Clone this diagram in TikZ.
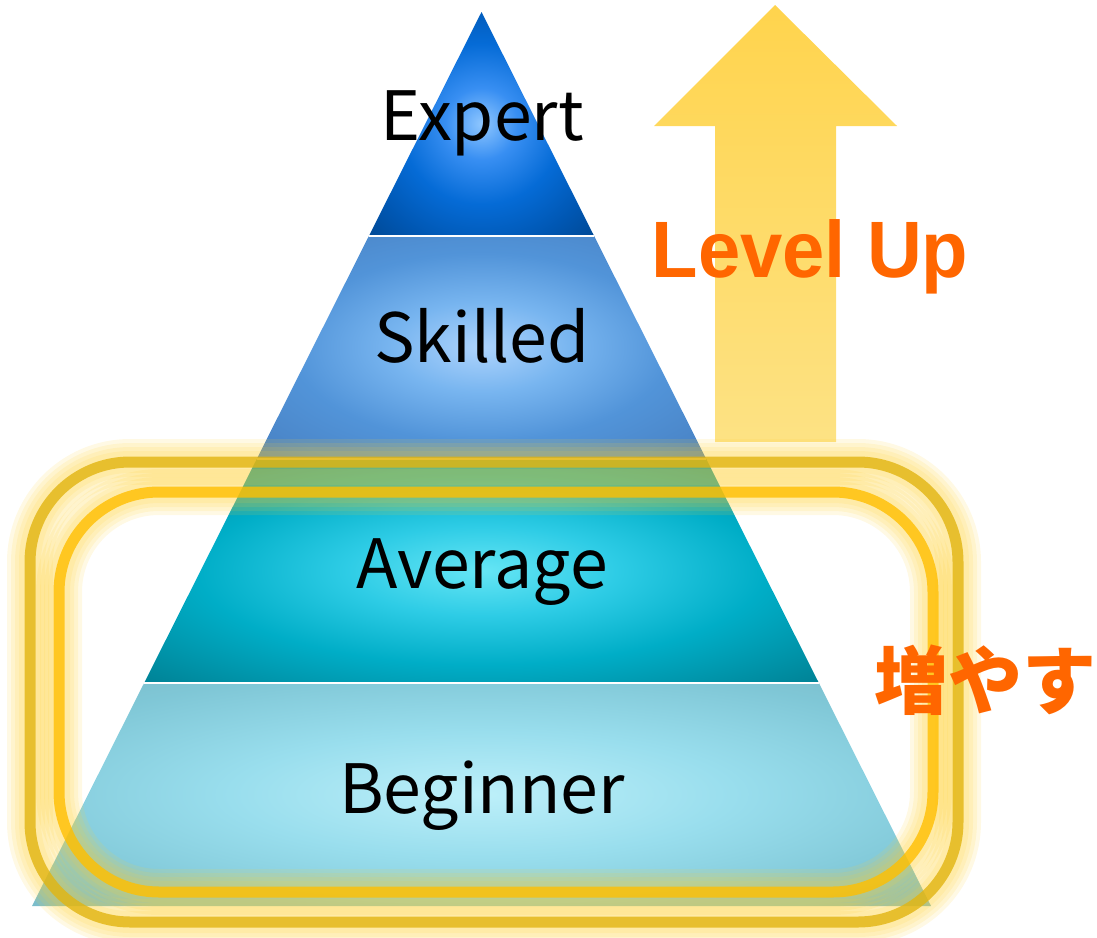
\documentclass[tikz,border=0pt]{standalone}
\usepackage{fontspec}
\usepackage{tikz}
\usetikzlibrary{calc}
\newfontfamily\tierfont{Noto Sans CJK JP}
\newfontfamily\levelfont{Liberation Sans}[FakeStretch=0.95]
\newfontfamily\cjkfont{Noto Sans CJK JP}
\definecolor{lvlorange}{RGB}{255,102,0}
\definecolor{arrowtop}{RGB}{255,212,77}
\definecolor{arrowbot}{RGB}{253,226,132}
\definecolor{glowyellow}{RGB}{255,208,50}
\definecolor{outerring}{RGB}{226,181,16}
\definecolor{innerring}{RGB}{255,191,0}
\pgfdeclareradialshading{expertshade}{\pgfpoint{0bp}{0bp}}{rgb(0bp)=(0.56,0.78,1);rgb(8bp)=(0.22,0.56,0.95);rgb(18bp)=(0.02,0.42,0.84);rgb(28bp)=(0,0.34,0.7);rgb(38bp)=(0,0.27,0.55);rgb(50bp)=(0,0.23,0.46)}
\pgfdeclareradialshading{skilledshade}{\pgfpoint{0bp}{0bp}}{rgb(0bp)=(0.68,0.83,0.99);rgb(10bp)=(0.47,0.71,0.94);rgb(21bp)=(0.32,0.58,0.85);rgb(32bp)=(0.29,0.52,0.78);rgb(42bp)=(0.28,0.45,0.65);rgb(50bp)=(0.27,0.42,0.6)}
\pgfdeclareradialshading{averageshade}{\pgfpoint{0bp}{0bp}}{rgb(0bp)=(0.4,0.9,0.96);rgb(10bp)=(0.18,0.8,0.9);rgb(21bp)=(0,0.68,0.78);rgb(32bp)=(0,0.55,0.63);rgb(42bp)=(0,0.43,0.5);rgb(50bp)=(0,0.38,0.45)}
\pgfdeclareradialshading{beginnershade}{\pgfpoint{0bp}{0bp}}{rgb(0bp)=(0.74,0.94,0.98);rgb(14bp)=(0.6,0.87,0.93);rgb(28bp)=(0.5,0.78,0.84);rgb(39bp)=(0.47,0.72,0.77);rgb(50bp)=(0.45,0.68,0.74)}
\tikzset{
  tier/.style={anchor=base, inner sep=0pt, font=\tierfont\fontsize{68}{68}\selectfont},
  glowline/.style={draw=glowyellow, line width=#1, opacity=0.13, rounded corners=100pt},
  ringline/.style={draw=#1, line width=11pt, opacity=0.8, rounded corners=100pt}
}

\begin{document}
\begin{tikzpicture}[x=1pt,y=-1pt]
\useasboundingbox (0,0) rectangle (1097,937);
\coordinate (apex) at (481.5,12);
\coordinate (bl) at (32,906);
\coordinate (br) at (931,906);
\foreach \ta/\tb/\sh in {0/0.25/expertshade, 0.25/0.5/skilledshade, 0.5/0.75/averageshade, 0.75/1/beginnershade}
  \shade[shading=\sh] ($(apex)!\ta!(bl)$) -- ($(apex)!\tb!(bl)$) -- ($(apex)!\tb!(br)$) -- ($(apex)!\ta!(br)$) -- cycle;
\foreach \t in {0.25,0.5,0.75}
  \draw[white, line width=2pt] ($(apex)!\t!(bl)$) -- ($(apex)!\t!(br)$);
\shade[top color=arrowtop, bottom color=arrowbot] (775,5) -- (897,126) -- (836,126) -- (836,442) -- (715,442) -- (715,126) -- (654,126) -- cycle;
\foreach \w in {46,38,30,22}
  \draw[glowline=\w pt] (30,462) rectangle (958,922);
\foreach \w in {46,38,30,22}
  \draw[glowline=\w pt] (59,492) rectangle (933,892);
\draw[ringline=outerring] (30,462) rectangle (958,922);
\draw[ringline=innerring] (59,492) rectangle (933,892);
\node[tier] (expert) at (482,140) {Expert};
\node[tier] (skilled) at (482,362) {Skilled};
\node[tier] (average) at (482,588) {Average};
\node[tier] (beginner) at (482,813) {Beginner};
\node[anchor=base, inner sep=0pt, text=lvlorange, font=\levelfont\bfseries\fontsize{80}{80}\selectfont] (levelup) at (810,277) {Level Up};
\node[anchor=base, inner sep=0pt, text=lvlorange, font=\cjkfont\bfseries\fontsize{74}{74}\selectfont] (increase) at (985,708) {増やす};
\end{tikzpicture}
\end{document}
